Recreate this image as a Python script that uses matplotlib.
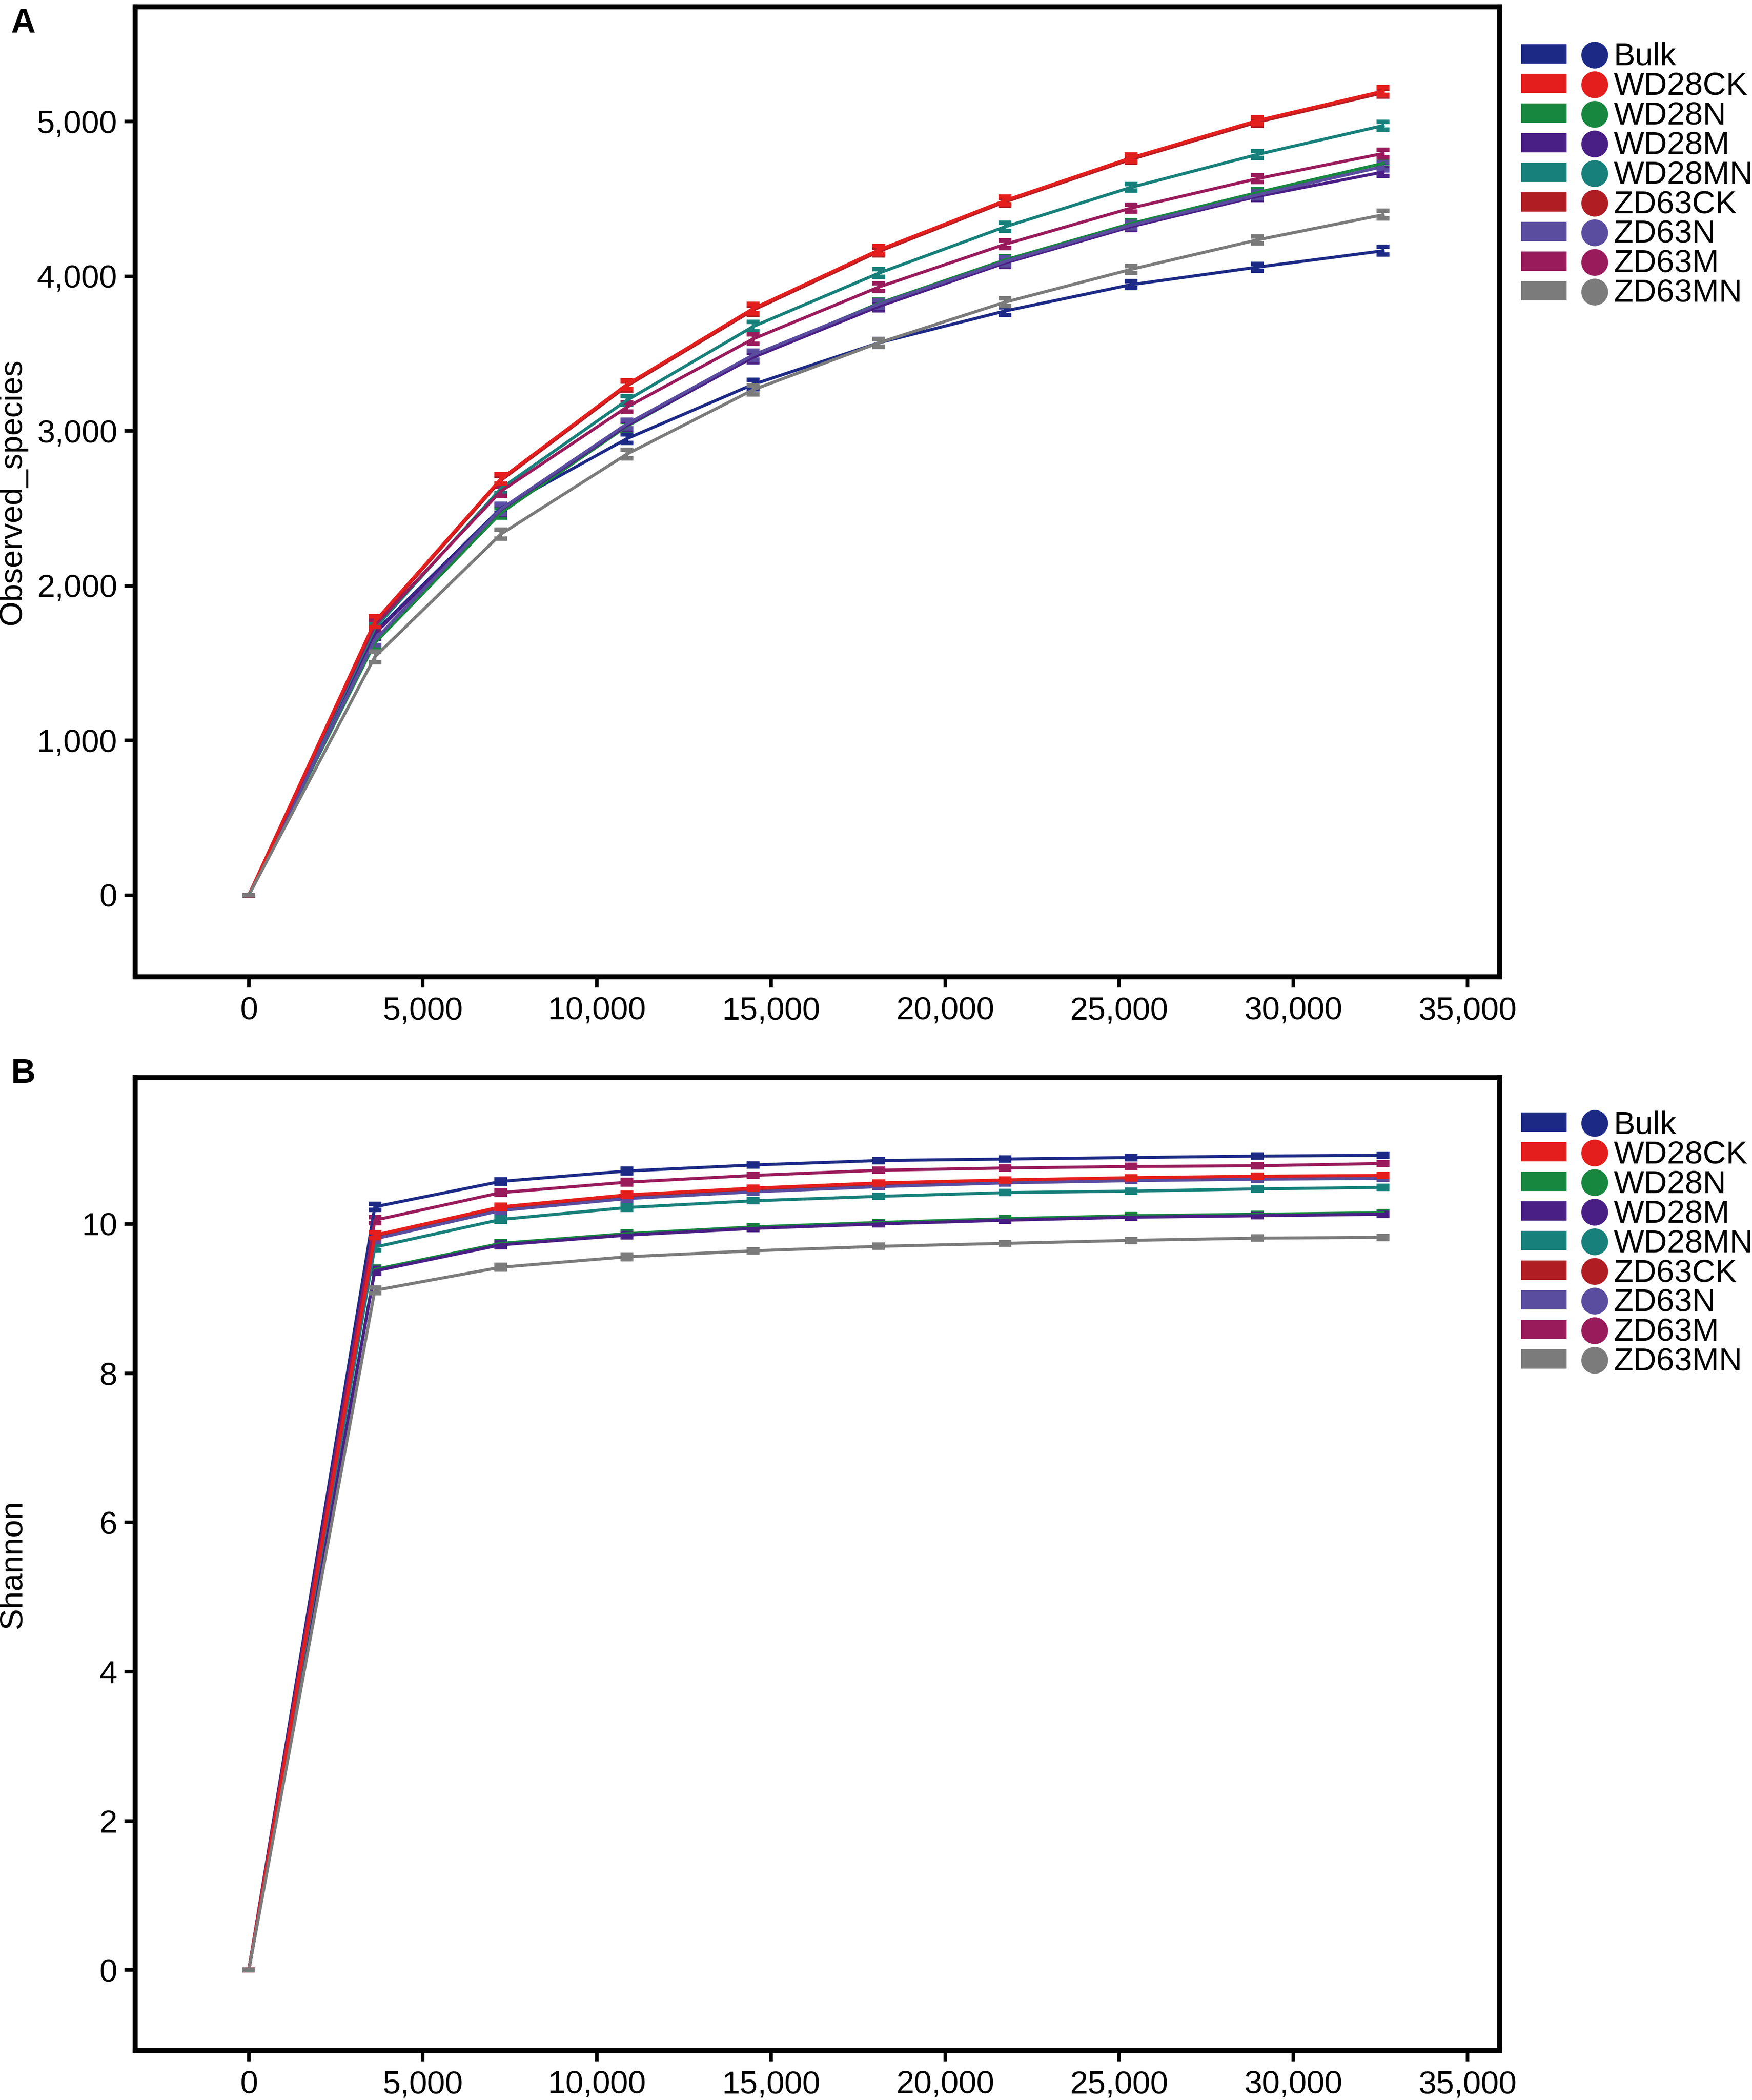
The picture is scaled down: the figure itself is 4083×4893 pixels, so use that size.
import numpy as np
import matplotlib
matplotlib.use("Agg")
import matplotlib.pyplot as plt
from matplotlib.patches import Patch
from matplotlib.lines import Line2D
from matplotlib.legend_handler import HandlerTuple
from matplotlib.ticker import FuncFormatter, MultipleLocator

plt.rcParams['font.family'] = ['Liberation Sans', 'DejaVu Sans']

# sequencing depth (reads sampled)
depth = [0, 3620, 7240, 10860, 14480, 18100, 21720, 25340, 28960, 32580]

groups = ["Bulk", "WD28CK", "WD28N", "WD28M", "WD28MN",
          "ZD63CK", "ZD63N", "ZD63M", "ZD63MN"]
colors = ["#1c2a86", "#e41e1c", "#17873f", "#4a1f85", "#17807a",
          "#b01e24", "#5a4c9f", "#991b5c", "#7b7b7b"]

# panel A - observed species
obs_bulk   = [0, 1700, 2500, 2950, 3300, 3570, 3775, 3945, 4058, 4164]
obs_wd28ck = [0, 1768, 2690, 3300, 3790, 4170, 4489, 4765, 5005, 5196]
obs_wd28n  = [0, 1630, 2470, 3030, 3480, 3825, 4105, 4340, 4540, 4729]
obs_wd28m  = [0, 1690, 2490, 3035, 3475, 3805, 4085, 4320, 4515, 4673]
obs_wd28mn = [0, 1724, 2628, 3198, 3674, 4020, 4319, 4574, 4786, 4973]
obs_zd63ck = [0, 1760, 2680, 3290, 3780, 4160, 4480, 4755, 4995, 5185]
obs_zd63n  = [0, 1650, 2495, 3045, 3490, 3820, 4095, 4330, 4525, 4708]
obs_zd63m  = [0, 1745, 2610, 3154, 3594, 3930, 4206, 4440, 4630, 4793]
obs_zd63mn = [0, 1540, 2333, 2850, 3265, 3570, 3832, 4044, 4234, 4397]
obs_err    = [0, 35, 30, 28, 30, 25, 25, 22, 22, 25]

# panel B - Shannon index
sh_bulk   = [0, 10.23, 10.57, 10.71, 10.79, 10.85, 10.87, 10.89, 10.91, 10.92]
sh_wd28ck = [0, 9.85, 10.23, 10.39, 10.48, 10.55, 10.59, 10.62, 10.64, 10.65]
sh_wd28n  = [0, 9.39, 9.74, 9.87, 9.96, 10.02, 10.07, 10.11, 10.13, 10.15]
sh_wd28m  = [0, 9.37, 9.72, 9.85, 9.94, 10.00, 10.05, 10.09, 10.11, 10.13]
sh_wd28mn = [0, 9.69, 10.06, 10.22, 10.31, 10.37, 10.42, 10.44, 10.47, 10.49]
sh_zd63ck = [0, 9.82, 10.21, 10.37, 10.46, 10.53, 10.58, 10.61, 10.63, 10.64]
sh_zd63n  = [0, 9.80, 10.18, 10.34, 10.43, 10.50, 10.55, 10.58, 10.60, 10.61]
sh_zd63m  = [0, 10.05, 10.42, 10.56, 10.65, 10.72, 10.75, 10.77, 10.78, 10.81]
sh_zd63mn = [0, 9.11, 9.42, 9.56, 9.64, 9.70, 9.74, 9.78, 9.81, 9.82]
sh_err    = [0, 0.04, 0.03, 0.03, 0.02, 0.02, 0.02, 0.02, 0.02, 0.02]

obs_all = [obs_bulk, obs_wd28ck, obs_wd28n, obs_wd28m, obs_wd28mn,
           obs_zd63ck, obs_zd63n, obs_zd63m, obs_zd63mn]
sh_all = [sh_bulk, sh_wd28ck, sh_wd28n, sh_wd28m, sh_wd28mn,
          sh_zd63ck, sh_zd63n, sh_zd63m, sh_zd63mn]

W, H = 4083, 4893
fig = plt.figure(figsize=(W / 300, H / 300), dpi=300)
ax1 = fig.add_axes([0.0771, 0.5349, 0.7788, 0.4618])
ax2 = fig.add_axes([0.0771, 0.0235, 0.7788, 0.4633])

comma = FuncFormatter(lambda v, p: "{:,.0f}".format(v))
# bright red line kept above dark red, grey on top at the origin
zorders = {"WD28CK": 2.6, "ZD63MN": 2.7}


def draw_panel(ax, series, err, ylim, ystep, yfmt, ylabel):
    for name, vals, col in zip(groups, series, colors):
        ax.errorbar(depth, vals, yerr=err, color=col, lw=1.7,
                    elinewidth=1.5, capsize=3.5, capthick=2.5,
                    zorder=zorders.get(name, 2))
    ax.set_xlim(-3266, 35925)
    ax.set_ylim(*ylim)
    ax.xaxis.set_major_locator(MultipleLocator(5000))
    ax.yaxis.set_major_locator(MultipleLocator(ystep))
    ax.xaxis.set_major_formatter(comma)
    ax.yaxis.set_major_formatter(yfmt)
    for s in ax.spines.values():
        s.set_linewidth(2.8)
    ax.tick_params(direction="out", length=6, width=2, labelsize=18,
                   top=False, right=False)
    ax.tick_params(axis="x", pad=5)
    ax.tick_params(axis="y", pad=4)
    ax.set_ylabel(ylabel, fontsize=18)
    ax.yaxis.set_label_coords(-0.079, 0.5)

    handles = [(Patch(facecolor=c, edgecolor=c, lw=0.5),
                Line2D([], [], ls="none", marker="o", ms=14,
                       mfc=c, mec=c)) for c in colors]
    return handles


h = draw_panel(ax1, obs_all, obs_err, (-527, 5740), 1000, comma,
               "Observed_species")
draw_panel(ax2, sh_all, sh_err, (-1.08, 11.96), 2,
           FuncFormatter(lambda v, p: "{:.0f}".format(v)), "Shannon")

for ax, top in [(ax1, 0.9800), (ax2, 0.4712)]:
    fig.legend(h, groups, loc="upper left", bbox_to_anchor=(0.8685, top),
               bbox_transform=fig.transFigure, frameon=False, fontsize=18,
               borderpad=0, borderaxespad=0, handlelength=2.96,
               handleheight=0.5, handletextpad=-0.1, labelspacing=0.0,
               handler_map={tuple: HandlerTuple(ndivide=None, pad=0.187)})

fig.text(25 / W, 1 - 18 / H, "A", fontsize=19, fontweight="bold",
         ha="left", va="top")
fig.text(26 / W, 1 - 2465 / H, "B", fontsize=19, fontweight="bold",
         ha="left", va="top")

fig.savefig("out.png", dpi=300, facecolor="white")
